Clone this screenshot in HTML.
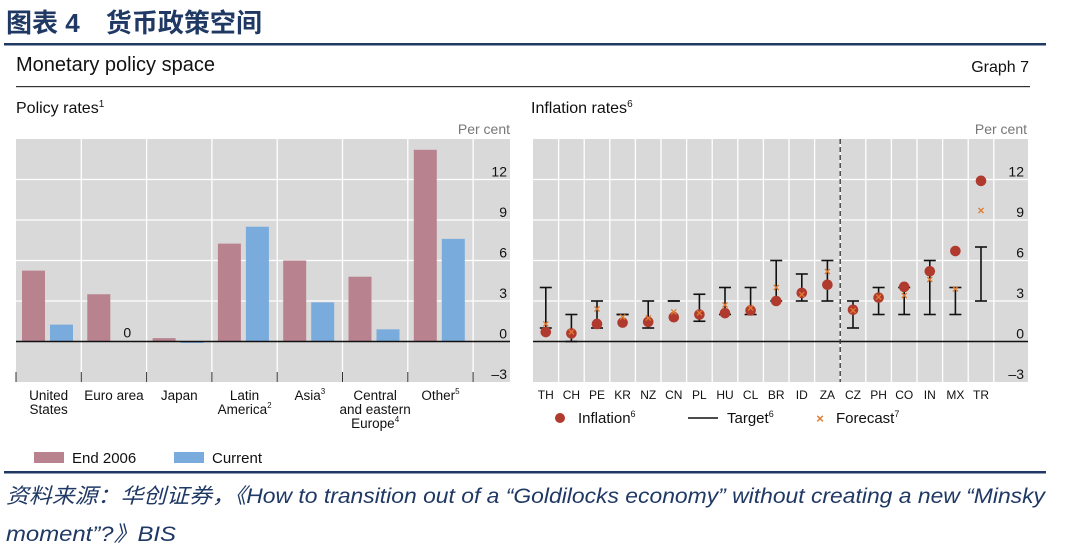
<!DOCTYPE html>
<html><head><meta charset="utf-8">
<style>
body{margin:0;width:1080px;height:552px;background:#fff;overflow:hidden;font-family:"Liberation Sans","Noto Sans CJK SC",sans-serif;}
svg{position:absolute;left:0;top:0}
</style></head>
<body>
<svg width="1080" height="552" viewBox="0 0 1080 552" xmlns="http://www.w3.org/2000/svg">
<text x="6" y="32" font-size="26" font-weight="bold" fill="#1f3864" textLength="256" lengthAdjust="spacingAndGlyphs" font-family="Liberation Sans, Noto Sans CJK SC, sans-serif">图表 4　货币政策空间</text>
<rect x="4" y="43" width="1042" height="2.5" fill="#1f3864"/>
<text x="16" y="71" font-size="20" fill="#111">Monetary policy space</text>
<text x="1029" y="72" font-size="16" fill="#111" text-anchor="end">Graph 7</text>
<rect x="16" y="86" width="1014" height="1.2" fill="#333"/>
<text x="16" y="113" font-size="16" fill="#111">Policy rates<tspan font-size="10" dy="-6">1</tspan></text>
<text x="531" y="113" font-size="16" fill="#111">Inflation rates<tspan font-size="10" dy="-6">6</tspan></text>
<g id="left"></g>
<g id="right"></g>
<rect x="4" y="471" width="1042" height="2.5" fill="#1f3864"/>
<text x="6" y="503" font-size="21" font-style="italic" fill="#1f3864" textLength="1039" lengthAdjust="spacingAndGlyphs">资料来源：华创证券，《How to transition out of a “Goldilocks economy” without creating a new “Minsky</text>
<text x="6" y="541" font-size="21" font-style="italic" fill="#1f3864" textLength="170" lengthAdjust="spacingAndGlyphs">moment”?》BIS</text>
</svg>
<script>
const NS='http://www.w3.org/2000/svg';
const groups=['United|States','Euro area','Japan','Latin|America','Asia','Central|and eastern|Europe','Other'];
const groupSup=['','','','2','3','4','5'];
const end2006=[5.25,3.5,0.25,7.25,6.0,4.8,14.2];
const current=[1.25,0,-0.1,8.5,2.9,0.9,7.6];
const yTicks=[-3,0,3,6,9,12];
const countries=['TH','CH','PE','KR','NZ','CN','PL','HU','CL','BR','ID','ZA','CZ','PH','CO','IN','MX','TR'];
const inflation=[0.7,0.6,1.3,1.4,1.45,1.8,2.0,2.1,2.3,3.0,3.6,4.2,2.35,3.25,4.05,5.2,6.7,11.9];
const targetLow=[1,0,1,2,1,3,1.5,2,2,3,3,3,1,2,2,2,2,3];
const targetHigh=[4,2,3,2,3,3,3.5,4,4,6,5,6,3,4,4,6,4,7];
const forecast=[1.3,0.7,2.4,1.8,1.75,2.2,2.1,2.7,2.5,4.0,3.5,5.2,2.3,3.3,3.4,4.6,3.9,9.7];

function el(tag,attrs,parent,txt){const e=document.createElementNS(NS,tag);for(const k in attrs)e.setAttribute(k,attrs[k]);if(txt!==undefined)e.textContent=txt;parent.appendChild(e);return e;}
const yTop=139,yBot=382,yMin=-3,yMax=15;
function Y(v){return yBot-(v-yMin)/(yMax-yMin)*(yBot-yTop);}

// LEFT
(function(){
const g=document.getElementById('left');
const x0=16,x1=510,gw=65.3;
const bg=el('rect',{x:x0,y:yTop,width:x1-x0,height:yBot-yTop,fill:'#d9d9d9'},g);

yTicks.forEach(t=>{if(t>0){const l=el('line',{x1:x0,x2:x1,y1:Y(t),y2:Y(t),stroke:'#fff','stroke-width':1.3},g);}});
for(let i=1;i<=7;i++){const x=x0+i*gw;const l=el('line',{x1:x,x2:x,y1:yTop,y2:yBot,stroke:'#fff','stroke-width':1.3},g);
}
for(let i=0;i<=7;i++){const x=x0+i*gw;const l=el('line',{x1:x,x2:x,y1:yBot-10,y2:yBot,stroke:'#333','stroke-width':1},g);}
groups.forEach((name,i)=>{
 const gx=x0+i*gw;
 const v1=end2006[i],v2=current[i];
 const b1=el('rect',{x:gx+6,y:Math.min(Y(v1),Y(0)),width:23,height:Math.abs(Y(v1)-Y(0)),fill:'#b8838f'},g);
 
 const b2=el('rect',{x:gx+34,y:Math.min(Y(v2),Y(0)),width:23,height:Math.max(Math.abs(Y(v2)-Y(0)),v2===0?0:1.5),fill:'#79abdc'},g);
 
 if(v2===0){const z=el('text',{x:gx+46,y:Y(0)-4,'font-size':14,'text-anchor':'middle',fill:'#111'},g,'0');}
 const lines=name.split('|');
 const t=el('text',{x:gx+gw/2,y:yBot+18,'font-size':13.5,'text-anchor':'middle',fill:'#111'},g);
 
 lines.forEach((ln,j)=>{el('tspan',{x:gx+gw/2,dy:j?14:0},t,ln);
  if(j===lines.length-1&&groupSup[i]){el('tspan',{'font-size':8,dy:-6},t,groupSup[i]);}});
});
const zl=el('line',{x1:x0,x2:x1,y1:Y(0),y2:Y(0),stroke:'#111','stroke-width':1.5},g);

yTicks.forEach(t=>{const tx=el('text',{x:507,y:Y(t)-3,'font-size':14,'text-anchor':'end',fill:'#111'},g,t<0?'–'+(-t):String(t));});
const pc=el('text',{x:510,y:134,'font-size':14,'text-anchor':'end',fill:'#777'},g,'Per cent');
const l1=el('rect',{x:34,y:452,width:30,height:11,fill:'#b8838f'},g);
const t1=el('text',{x:72,y:463,'font-size':15,fill:'#111'},g,'End 2006');
const l2=el('rect',{x:174,y:452,width:30,height:11,fill:'#79abdc'},g);
const t2=el('text',{x:212,y:463,'font-size':15,fill:'#111'},g,'Current');
})();

// RIGHT
(function(){
const g=document.getElementById('right');
const x0=533,x1=1028,cw=25.6;
const bg=el('rect',{x:x0,y:yTop,width:x1-x0,height:yBot-yTop,fill:'#d9d9d9'},g);

yTicks.forEach(t=>{if(t>0){const l=el('line',{x1:x0,x2:x1,y1:Y(t),y2:Y(t),stroke:'#fff','stroke-width':1.3},g);}});
for(let i=1;i<19;i++){const x=x0+i*cw;const l=el('line',{x1:x,x2:x,y1:yTop,y2:yBot,stroke:'#fff','stroke-width':1.3},g);}
const zl=el('line',{x1:x0,x2:x1,y1:Y(0),y2:Y(0),stroke:'#111','stroke-width':1.5},g);

const dl=el('line',{x1:x0+12*cw,x2:x0+12*cw,y1:yTop,y2:yBot,stroke:'#333','stroke-width':1.3,'stroke-dasharray':'5,3'},g);

countries.forEach((c,i)=>{
 const cx=x0+i*cw+cw/2;
 const lo=targetLow[i],hi=targetHigh[i];
 const tg=el('g',{stroke:'#111','stroke-width':1.6},g);
 if(lo!==hi)el('line',{x1:cx,x2:cx,y1:Y(hi),y2:Y(lo)},tg);
 el('line',{x1:cx-6,x2:cx+6,y1:Y(hi),y2:Y(hi)},tg);
 el('line',{x1:cx-6,x2:cx+6,y1:Y(lo),y2:Y(lo)},tg);
 const d=el('circle',{cx:cx,cy:Y(inflation[i]),r:5.3,fill:'#b03a2e'},g);
 const fy=Y(forecast[i]);
 const f=el('text',{x:cx,y:fy+4,'font-size':12,'text-anchor':'middle',fill:'#e07a2e','font-weight':'bold'},g,'×');
 const t=el('text',{x:cx,y:yBot+17,'font-size':12,'text-anchor':'middle',fill:'#111'},g,c);
});
yTicks.forEach(t=>{const tx=el('text',{x:1024,y:Y(t)-3,'font-size':14,'text-anchor':'end',fill:'#111'},g,t<0?'–'+(-t):String(t));});
const pc=el('text',{x:1027,y:134,'font-size':14,'text-anchor':'end',fill:'#777'},g,'Per cent');
const ld=el('circle',{cx:560,cy:418,r:5,fill:'#b03a2e'},g);
const lt=el('text',{x:578,y:423,'font-size':15,fill:'#111'},g);
el('tspan',{},lt,'Inflation');el('tspan',{'font-size':9,dy:-6},lt,'6');
const ll=el('line',{x1:688,x2:718,y1:418,y2:418,stroke:'#111','stroke-width':1.6},g);
const tt=el('text',{x:727,y:423,'font-size':15,fill:'#111'},g);
el('tspan',{},tt,'Target');el('tspan',{'font-size':9,dy:-6},tt,'6');
const fx=el('text',{x:820,y:423,'font-size':13,fill:'#e07a2e','text-anchor':'middle','font-weight':'bold'},g,'×');
const ft=el('text',{x:836,y:423,'font-size':15,fill:'#111'},g);
el('tspan',{},ft,'Forecast');el('tspan',{'font-size':9,dy:-6},ft,'7');
})();
</script>
</body></html>
